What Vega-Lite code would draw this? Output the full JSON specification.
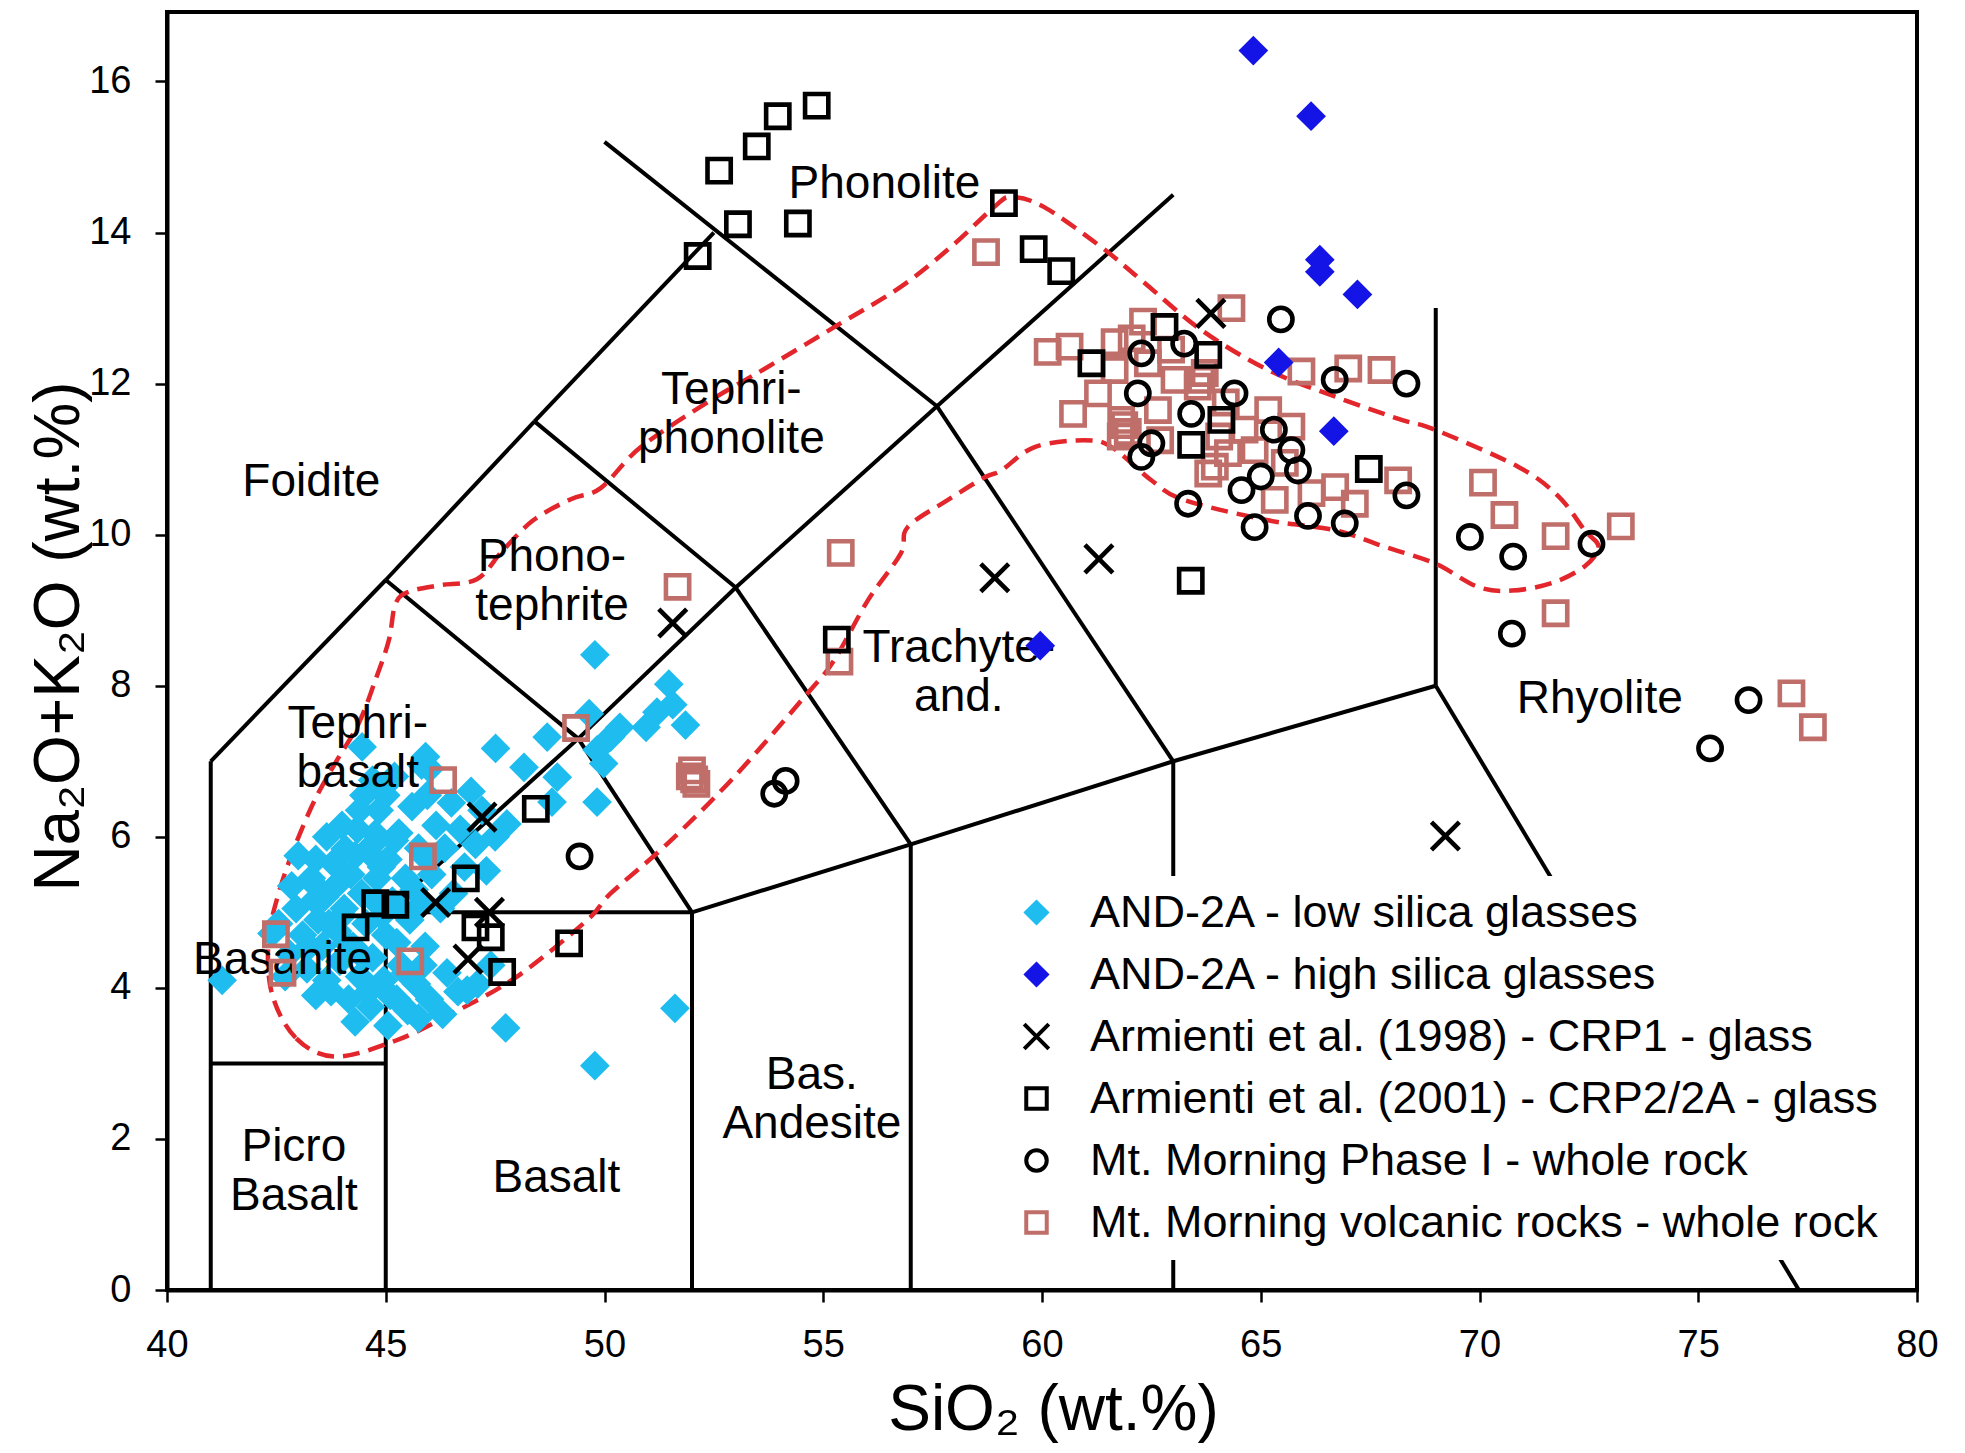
{
  "$schema": "https://vega.github.io/schema/vega-lite/v6.json",
  "width": 1750,
  "height": 1278,
  "autosize": {"type": "none"},
  "padding": {"left": 167, "top": 12, "right": 48, "bottom": 163},
  "background": "white",
  "datasets": {
    "tas": [
      {"x": 41, "y": 0, "x2": 41, "y2": 7},
      {"x": 41, "y": 7, "x2": 45, "y2": 9.4},
      {"x": 45, "y": 9.4, "x2": 48.4, "y2": 11.5},
      {"x": 48.4, "y": 11.5, "x2": 52.5, "y2": 14},
      {"x": 50, "y": 15.2, "x2": 57.6, "y2": 11.7},
      {"x": 41, "y": 3, "x2": 45, "y2": 3},
      {"x": 45, "y": 0, "x2": 45, "y2": 5},
      {"x": 45, "y": 5, "x2": 52, "y2": 5},
      {"x": 52, "y": 0, "x2": 52, "y2": 5},
      {"x": 45, "y": 5, "x2": 49.4, "y2": 7.3},
      {"x": 49.4, "y": 7.3, "x2": 52, "y2": 5},
      {"x": 49.4, "y": 7.3, "x2": 53, "y2": 9.3},
      {"x": 45, "y": 9.4, "x2": 49.4, "y2": 7.3},
      {"x": 48.4, "y": 11.5, "x2": 53, "y2": 9.3},
      {"x": 53, "y": 9.3, "x2": 57, "y2": 5.9},
      {"x": 52, "y": 5, "x2": 57, "y2": 5.9},
      {"x": 57, "y": 0, "x2": 57, "y2": 5.9},
      {"x": 53, "y": 9.3, "x2": 57.6, "y2": 11.7},
      {"x": 57.6, "y": 11.7, "x2": 63, "y2": 7},
      {"x": 57, "y": 5.9, "x2": 63, "y2": 7},
      {"x": 63, "y": 0, "x2": 63, "y2": 7},
      {"x": 63, "y": 7, "x2": 69, "y2": 8},
      {"x": 69, "y": 8, "x2": 69, "y2": 13},
      {"x": 69, "y": 8, "x2": 77.3, "y2": 0},
      {"x": 57.6, "y": 11.7, "x2": 63, "y2": 14.5}
    ],
    "outline": [
      {"i": 1, "x": 43.84, "y": 3.09}, {"i": 2, "x": 42.94, "y": 3.34}, {"i": 3, "x": 42.40, "y": 3.92},
      {"i": 4, "x": 42.32, "y": 4.63}, {"i": 5, "x": 42.55, "y": 5.25}, {"i": 6, "x": 42.92, "y": 5.87},
      {"i": 7, "x": 43.38, "y": 6.49}, {"i": 8, "x": 43.84, "y": 6.97}, {"i": 9, "x": 44.38, "y": 7.50},
      {"i": 10, "x": 44.76, "y": 8.07}, {"i": 11, "x": 45.07, "y": 8.60}, {"i": 12, "x": 45.22, "y": 9.08},
      {"i": 13, "x": 45.51, "y": 9.24}, {"i": 14, "x": 46.22, "y": 9.33}, {"i": 15, "x": 47.08, "y": 9.41},
      {"i": 16, "x": 47.66, "y": 9.78}, {"i": 17, "x": 48.37, "y": 10.19}, {"i": 18, "x": 49.23, "y": 10.47},
      {"i": 19, "x": 49.92, "y": 10.62}, {"i": 20, "x": 50.83, "y": 11.16}, {"i": 21, "x": 52.43, "y": 11.78},
      {"i": 22, "x": 53.73, "y": 12.22}, {"i": 23, "x": 55.40, "y": 12.80}, {"i": 24, "x": 56.77, "y": 13.28},
      {"i": 25, "x": 57.92, "y": 13.81}, {"i": 26, "x": 58.91, "y": 14.34}, {"i": 27, "x": 59.30, "y": 14.47},
      {"i": 28, "x": 60.04, "y": 14.34}, {"i": 29, "x": 61.35, "y": 13.81}, {"i": 30, "x": 62.27, "y": 13.37},
      {"i": 31, "x": 63.64, "y": 12.71}, {"i": 32, "x": 65.17, "y": 12.18}, {"i": 33, "x": 66.69, "y": 11.83},
      {"i": 34, "x": 68.22, "y": 11.52}, {"i": 35, "x": 68.98, "y": 11.39}, {"i": 36, "x": 70.88, "y": 10.90},
      {"i": 37, "x": 71.80, "y": 10.51}, {"i": 38, "x": 72.40, "y": 10.06}, {"i": 39, "x": 72.72, "y": 9.84},
      {"i": 40, "x": 72.40, "y": 9.58}, {"i": 41, "x": 71.66, "y": 9.36}, {"i": 42, "x": 70.74, "y": 9.26},
      {"i": 43, "x": 69.96, "y": 9.31}, {"i": 44, "x": 68.98, "y": 9.62}, {"i": 45, "x": 67.83, "y": 9.84},
      {"i": 46, "x": 66.69, "y": 10.06}, {"i": 47, "x": 65.17, "y": 10.19}, {"i": 48, "x": 63.25, "y": 10.46},
      {"i": 49, "x": 62.50, "y": 10.72}, {"i": 50, "x": 61.59, "y": 11.16}, {"i": 51, "x": 60.96, "y": 11.25},
      {"i": 52, "x": 59.83, "y": 11.16}, {"i": 53, "x": 59.07, "y": 10.85}, {"i": 54, "x": 58.69, "y": 10.76},
      {"i": 55, "x": 57.85, "y": 10.46}, {"i": 56, "x": 56.93, "y": 10.10}, {"i": 57, "x": 56.77, "y": 9.75},
      {"i": 58, "x": 56.02, "y": 9.13}, {"i": 59, "x": 55.25, "y": 8.34}, {"i": 60, "x": 54.64, "y": 7.90},
      {"i": 61, "x": 52.96, "y": 6.79}, {"i": 62, "x": 51.44, "y": 5.91}, {"i": 63, "x": 50.14, "y": 5.25},
      {"i": 64, "x": 49.61, "y": 4.90}, {"i": 65, "x": 48.00, "y": 4.15}, {"i": 66, "x": 46.51, "y": 3.66},
      {"i": 67, "x": 45.22, "y": 3.30}
    ],
    "labels": [
      {"x": 56.4, "y": 14.64, "label": "Phonolite"},
      {"x": 52.9, "y": 11.92, "label": "Tephri-\nphonolite"},
      {"x": 43.3, "y": 10.7, "label": "Foidite"},
      {"x": 48.8, "y": 9.71, "label": "Phono-\ntephrite"},
      {"x": 44.36, "y": 7.49, "label": "Tephri-\nbasalt"},
      {"x": 42.64, "y": 4.37, "label": "Basanite"},
      {"x": 58.1, "y": 8.50, "label": "Trachyte-\nand."},
      {"x": 72.75, "y": 7.83, "label": "Rhyolite"},
      {"x": 42.9, "y": 1.89, "label": "Picro\nBasalt"},
      {"x": 48.9, "y": 1.48, "label": "Basalt"},
      {"x": 54.74, "y": 2.85, "label": "Bas.\nAndesite"}
    ],
    "pts": [
      {"s": "AND-2A - low silica glasses", "x": 49.78, "y": 8.41},
      {"s": "AND-2A - low silica glasses", "x": 51.47, "y": 8.02},
      {"s": "AND-2A - low silica glasses", "x": 51.56, "y": 7.75},
      {"s": "AND-2A - low silica glasses", "x": 51.85, "y": 7.48},
      {"s": "AND-2A - low silica glasses", "x": 50.95, "y": 7.45},
      {"s": "AND-2A - low silica glasses", "x": 51.20, "y": 7.65},
      {"s": "AND-2A - low silica glasses", "x": 49.65, "y": 7.63},
      {"s": "AND-2A - low silica glasses", "x": 50.14, "y": 7.32},
      {"s": "AND-2A - low silica glasses", "x": 49.83, "y": 7.15},
      {"s": "AND-2A - low silica glasses", "x": 49.98, "y": 6.97},
      {"s": "AND-2A - low silica glasses", "x": 48.69, "y": 7.32},
      {"s": "AND-2A - low silica glasses", "x": 47.51, "y": 7.17},
      {"s": "AND-2A - low silica glasses", "x": 48.16, "y": 6.92},
      {"s": "AND-2A - low silica glasses", "x": 48.92, "y": 6.79},
      {"s": "AND-2A - low silica glasses", "x": 49.83, "y": 6.46},
      {"s": "AND-2A - low silica glasses", "x": 47.77, "y": 6.17},
      {"s": "AND-2A - low silica glasses", "x": 48.80, "y": 6.46},
      {"s": "AND-2A - low silica glasses", "x": 46.86, "y": 3.97},
      {"s": "AND-2A - low silica glasses", "x": 50.35, "y": 7.45},
      {"s": "AND-2A - low silica glasses", "x": 51.61, "y": 3.73},
      {"s": "AND-2A - low silica glasses", "x": 49.78, "y": 2.97},
      {"s": "AND-2A - low silica glasses", "x": 47.74, "y": 3.47},
      {"s": "AND-2A - low silica glasses", "x": 44.46, "y": 7.19},
      {"s": "AND-2A - low silica glasses", "x": 45.91, "y": 7.06},
      {"s": "AND-2A - low silica glasses", "x": 44.76, "y": 6.04},
      {"s": "AND-2A - low silica glasses", "x": 44.07, "y": 5.84},
      {"s": "AND-2A - low silica glasses", "x": 43.35, "y": 5.38},
      {"s": "AND-2A - low silica glasses", "x": 42.40, "y": 4.72},
      {"s": "AND-2A - low silica glasses", "x": 41.26, "y": 4.10},
      {"s": "AND-2A - low silica glasses", "x": 42.55, "y": 4.85},
      {"s": "AND-2A - low silica glasses", "x": 42.80, "y": 4.45},
      {"s": "AND-2A - low silica glasses", "x": 42.95, "y": 5.05},
      {"s": "AND-2A - low silica glasses", "x": 43.10, "y": 4.70},
      {"s": "AND-2A - low silica glasses", "x": 43.20, "y": 4.25},
      {"s": "AND-2A - low silica glasses", "x": 43.30, "y": 5.45},
      {"s": "AND-2A - low silica glasses", "x": 43.45, "y": 4.90},
      {"s": "AND-2A - low silica glasses", "x": 43.55, "y": 4.55},
      {"s": "AND-2A - low silica glasses", "x": 43.60, "y": 5.20},
      {"s": "AND-2A - low silica glasses", "x": 43.75, "y": 3.95},
      {"s": "AND-2A - low silica glasses", "x": 43.80, "y": 5.65},
      {"s": "AND-2A - low silica glasses", "x": 43.90, "y": 4.75},
      {"s": "AND-2A - low silica glasses", "x": 43.95, "y": 4.35},
      {"s": "AND-2A - low silica glasses", "x": 44.05, "y": 5.05},
      {"s": "AND-2A - low silica glasses", "x": 44.15, "y": 3.85},
      {"s": "AND-2A - low silica glasses", "x": 44.20, "y": 5.50},
      {"s": "AND-2A - low silica glasses", "x": 44.25, "y": 4.55},
      {"s": "AND-2A - low silica glasses", "x": 44.35, "y": 6.10},
      {"s": "AND-2A - low silica glasses", "x": 44.40, "y": 4.15},
      {"s": "AND-2A - low silica glasses", "x": 44.45, "y": 5.25},
      {"s": "AND-2A - low silica glasses", "x": 44.55, "y": 4.85},
      {"s": "AND-2A - low silica glasses", "x": 44.60, "y": 5.80},
      {"s": "AND-2A - low silica glasses", "x": 44.65, "y": 3.75},
      {"s": "AND-2A - low silica glasses", "x": 44.70, "y": 4.40},
      {"s": "AND-2A - low silica glasses", "x": 44.80, "y": 5.45},
      {"s": "AND-2A - low silica glasses", "x": 44.85, "y": 6.35},
      {"s": "AND-2A - low silica glasses", "x": 44.90, "y": 4.95},
      {"s": "AND-2A - low silica glasses", "x": 44.95, "y": 4.10},
      {"s": "AND-2A - low silica glasses", "x": 45.05, "y": 5.70},
      {"s": "AND-2A - low silica glasses", "x": 45.10, "y": 3.90},
      {"s": "AND-2A - low silica glasses", "x": 45.15, "y": 5.15},
      {"s": "AND-2A - low silica glasses", "x": 45.25, "y": 4.60},
      {"s": "AND-2A - low silica glasses", "x": 45.30, "y": 6.05},
      {"s": "AND-2A - low silica glasses", "x": 45.35, "y": 4.30},
      {"s": "AND-2A - low silica glasses", "x": 45.45, "y": 5.45},
      {"s": "AND-2A - low silica glasses", "x": 45.50, "y": 3.70},
      {"s": "AND-2A - low silica glasses", "x": 45.55, "y": 4.90},
      {"s": "AND-2A - low silica glasses", "x": 45.60, "y": 6.40},
      {"s": "AND-2A - low silica glasses", "x": 45.70, "y": 4.05},
      {"s": "AND-2A - low silica glasses", "x": 45.75, "y": 5.85},
      {"s": "AND-2A - low silica glasses", "x": 45.80, "y": 5.10},
      {"s": "AND-2A - low silica glasses", "x": 45.90, "y": 4.55},
      {"s": "AND-2A - low silica glasses", "x": 45.95, "y": 6.55},
      {"s": "AND-2A - low silica glasses", "x": 46.00, "y": 3.85},
      {"s": "AND-2A - low silica glasses", "x": 46.05, "y": 5.50},
      {"s": "AND-2A - low silica glasses", "x": 46.15, "y": 6.15},
      {"s": "AND-2A - low silica glasses", "x": 46.30, "y": 3.65},
      {"s": "AND-2A - low silica glasses", "x": 46.35, "y": 5.85},
      {"s": "AND-2A - low silica glasses", "x": 46.40, "y": 4.20},
      {"s": "AND-2A - low silica glasses", "x": 46.50, "y": 6.45},
      {"s": "AND-2A - low silica glasses", "x": 46.55, "y": 5.25},
      {"s": "AND-2A - low silica glasses", "x": 46.65, "y": 3.95},
      {"s": "AND-2A - low silica glasses", "x": 46.70, "y": 6.10},
      {"s": "AND-2A - low silica glasses", "x": 46.80, "y": 5.60},
      {"s": "AND-2A - low silica glasses", "x": 46.95, "y": 6.60},
      {"s": "AND-2A - low silica glasses", "x": 47.05, "y": 5.90},
      {"s": "AND-2A - low silica glasses", "x": 47.10, "y": 4.05},
      {"s": "AND-2A - low silica glasses", "x": 47.20, "y": 6.35},
      {"s": "AND-2A - low silica glasses", "x": 47.30, "y": 5.55},
      {"s": "AND-2A - low silica glasses", "x": 47.40, "y": 4.30},
      {"s": "AND-2A - low silica glasses", "x": 47.50, "y": 6.00},
      {"s": "AND-2A - low silica glasses", "x": 43.00, "y": 5.75},
      {"s": "AND-2A - low silica glasses", "x": 42.70, "y": 4.15},
      {"s": "AND-2A - low silica glasses", "x": 43.40, "y": 3.90},
      {"s": "AND-2A - low silica glasses", "x": 44.00, "y": 6.15},
      {"s": "AND-2A - low silica glasses", "x": 44.30, "y": 3.55},
      {"s": "AND-2A - low silica glasses", "x": 45.05, "y": 3.50},
      {"s": "AND-2A - low silica glasses", "x": 44.50, "y": 6.55},
      {"s": "AND-2A - low silica glasses", "x": 45.20, "y": 6.80},
      {"s": "AND-2A - low silica glasses", "x": 46.00, "y": 6.90},
      {"s": "AND-2A - low silica glasses", "x": 45.82, "y": 6.95},
      {"s": "AND-2A - low silica glasses", "x": 43.37, "y": 5.16},
      {"s": "AND-2A - low silica glasses", "x": 44.67, "y": 5.88},
      {"s": "AND-2A - low silica glasses", "x": 43.25, "y": 4.55},
      {"s": "AND-2A - low silica glasses", "x": 43.65, "y": 4.10},
      {"s": "AND-2A - low silica glasses", "x": 43.85, "y": 5.35},
      {"s": "AND-2A - low silica glasses", "x": 44.10, "y": 4.60},
      {"s": "AND-2A - low silica glasses", "x": 44.30, "y": 5.75},
      {"s": "AND-2A - low silica glasses", "x": 44.50, "y": 4.40},
      {"s": "AND-2A - low silica glasses", "x": 44.75, "y": 5.15},
      {"s": "AND-2A - low silica glasses", "x": 44.60, "y": 3.95},
      {"s": "AND-2A - low silica glasses", "x": 45.00, "y": 4.70},
      {"s": "AND-2A - low silica glasses", "x": 45.20, "y": 5.95},
      {"s": "AND-2A - low silica glasses", "x": 45.40, "y": 5.00},
      {"s": "AND-2A - low silica glasses", "x": 45.65, "y": 5.30},
      {"s": "AND-2A - low silica glasses", "x": 45.45, "y": 4.20},
      {"s": "AND-2A - low silica glasses", "x": 45.85, "y": 4.30},
      {"s": "AND-2A - low silica glasses", "x": 45.95, "y": 5.70},
      {"s": "AND-2A - low silica glasses", "x": 46.25, "y": 5.05},
      {"s": "AND-2A - low silica glasses", "x": 44.00, "y": 4.95},
      {"s": "AND-2A - low silica glasses", "x": 43.70, "y": 4.85},
      {"s": "AND-2A - low silica glasses", "x": 43.40, "y": 5.70},
      {"s": "AND-2A - low silica glasses", "x": 42.85, "y": 5.35},
      {"s": "AND-2A - low silica glasses", "x": 44.90, "y": 5.60},
      {"s": "AND-2A - low silica glasses", "x": 45.25, "y": 3.85},
      {"s": "AND-2A - low silica glasses", "x": 45.75, "y": 3.60},
      {"s": "AND-2A - low silica glasses", "x": 44.40, "y": 6.35},
      {"s": "AND-2A - low silica glasses", "x": 45.00, "y": 6.55},
      {"s": "AND-2A - low silica glasses", "x": 44.70, "y": 6.75},
      {"s": "AND-2A - low silica glasses", "x": 43.65, "y": 6.00},
      {"s": "Mt. Morning volcanic rocks - whole rock", "x": 42.49, "y": 4.71},
      {"s": "Mt. Morning volcanic rocks - whole rock", "x": 42.64, "y": 4.20},
      {"s": "Mt. Morning volcanic rocks - whole rock", "x": 45.56, "y": 4.35},
      {"s": "Mt. Morning volcanic rocks - whole rock", "x": 45.85, "y": 5.74},
      {"s": "Mt. Morning volcanic rocks - whole rock", "x": 46.31, "y": 6.75},
      {"s": "Mt. Morning volcanic rocks - whole rock", "x": 49.35, "y": 7.44},
      {"s": "Mt. Morning volcanic rocks - whole rock", "x": 51.67, "y": 9.31},
      {"s": "Mt. Morning volcanic rocks - whole rock", "x": 55.40, "y": 9.76},
      {"s": "Mt. Morning volcanic rocks - whole rock", "x": 55.37, "y": 8.32},
      {"s": "Mt. Morning volcanic rocks - whole rock", "x": 51.95, "y": 6.80},
      {"s": "Mt. Morning volcanic rocks - whole rock", "x": 52.05, "y": 6.76},
      {"s": "Mt. Morning volcanic rocks - whole rock", "x": 52.00, "y": 6.88},
      {"s": "Mt. Morning volcanic rocks - whole rock", "x": 52.10, "y": 6.70},
      {"s": "Mt. Morning volcanic rocks - whole rock", "x": 58.72, "y": 13.74},
      {"s": "Mt. Morning volcanic rocks - whole rock", "x": 64.33, "y": 13.00},
      {"s": "Mt. Morning volcanic rocks - whole rock", "x": 60.13, "y": 12.42},
      {"s": "Mt. Morning volcanic rocks - whole rock", "x": 60.63, "y": 12.49},
      {"s": "Mt. Morning volcanic rocks - whole rock", "x": 60.71, "y": 11.60},
      {"s": "Mt. Morning volcanic rocks - whole rock", "x": 61.28, "y": 11.87},
      {"s": "Mt. Morning volcanic rocks - whole rock", "x": 61.66, "y": 12.55},
      {"s": "Mt. Morning volcanic rocks - whole rock", "x": 62.31, "y": 12.82},
      {"s": "Mt. Morning volcanic rocks - whole rock", "x": 61.66, "y": 12.18},
      {"s": "Mt. Morning volcanic rocks - whole rock", "x": 61.81, "y": 11.52},
      {"s": "Mt. Morning volcanic rocks - whole rock", "x": 62.65, "y": 11.65},
      {"s": "Mt. Morning volcanic rocks - whole rock", "x": 62.42, "y": 12.27},
      {"s": "Mt. Morning volcanic rocks - whole rock", "x": 63.03, "y": 12.05},
      {"s": "Mt. Morning volcanic rocks - whole rock", "x": 63.64, "y": 12.05},
      {"s": "Mt. Morning volcanic rocks - whole rock", "x": 63.72, "y": 12.14},
      {"s": "Mt. Morning volcanic rocks - whole rock", "x": 63.56, "y": 11.96},
      {"s": "Mt. Morning volcanic rocks - whole rock", "x": 61.88, "y": 11.45},
      {"s": "Mt. Morning volcanic rocks - whole rock", "x": 61.96, "y": 11.36},
      {"s": "Mt. Morning volcanic rocks - whole rock", "x": 61.80, "y": 11.30},
      {"s": "Mt. Morning volcanic rocks - whole rock", "x": 63.95, "y": 10.90},
      {"s": "Mt. Morning volcanic rocks - whole rock", "x": 64.63, "y": 11.39},
      {"s": "Mt. Morning volcanic rocks - whole rock", "x": 65.17, "y": 11.65},
      {"s": "Mt. Morning volcanic rocks - whole rock", "x": 65.70, "y": 11.43},
      {"s": "Mt. Morning volcanic rocks - whole rock", "x": 64.25, "y": 11.08},
      {"s": "Mt. Morning volcanic rocks - whole rock", "x": 64.86, "y": 11.12},
      {"s": "Mt. Morning volcanic rocks - whole rock", "x": 65.32, "y": 10.46},
      {"s": "Mt. Morning volcanic rocks - whole rock", "x": 66.16, "y": 10.55},
      {"s": "Mt. Morning volcanic rocks - whole rock", "x": 66.70, "y": 10.63},
      {"s": "Mt. Morning volcanic rocks - whole rock", "x": 67.15, "y": 10.41},
      {"s": "Mt. Morning volcanic rocks - whole rock", "x": 63.80, "y": 10.81},
      {"s": "Mt. Morning volcanic rocks - whole rock", "x": 65.93, "y": 12.16},
      {"s": "Mt. Morning volcanic rocks - whole rock", "x": 67.00, "y": 12.20},
      {"s": "Mt. Morning volcanic rocks - whole rock", "x": 67.76, "y": 12.18},
      {"s": "Mt. Morning volcanic rocks - whole rock", "x": 68.14, "y": 10.72},
      {"s": "Mt. Morning volcanic rocks - whole rock", "x": 70.08, "y": 10.69},
      {"s": "Mt. Morning volcanic rocks - whole rock", "x": 70.57, "y": 10.26},
      {"s": "Mt. Morning volcanic rocks - whole rock", "x": 71.74, "y": 9.98},
      {"s": "Mt. Morning volcanic rocks - whole rock", "x": 73.23, "y": 10.11},
      {"s": "Mt. Morning volcanic rocks - whole rock", "x": 71.74, "y": 8.96},
      {"s": "Mt. Morning volcanic rocks - whole rock", "x": 77.13, "y": 7.90},
      {"s": "Mt. Morning volcanic rocks - whole rock", "x": 77.62, "y": 7.45},
      {"s": "Mt. Morning volcanic rocks - whole rock", "x": 62.95, "y": 12.45},
      {"s": "Mt. Morning volcanic rocks - whole rock", "x": 62.05, "y": 12.60},
      {"s": "Mt. Morning volcanic rocks - whole rock", "x": 62.70, "y": 11.25},
      {"s": "Mt. Morning volcanic rocks - whole rock", "x": 64.05, "y": 11.30},
      {"s": "Mt. Morning volcanic rocks - whole rock", "x": 64.20, "y": 11.75},
      {"s": "Mt. Morning volcanic rocks - whole rock", "x": 65.55, "y": 10.95},
      {"s": "AND-2A - high silica glasses", "x": 64.83, "y": 16.41},
      {"s": "AND-2A - high silica glasses", "x": 66.15, "y": 15.54},
      {"s": "AND-2A - high silica glasses", "x": 66.35, "y": 13.64},
      {"s": "AND-2A - high silica glasses", "x": 66.35, "y": 13.48},
      {"s": "AND-2A - high silica glasses", "x": 67.21, "y": 13.18},
      {"s": "AND-2A - high silica glasses", "x": 65.41, "y": 12.28},
      {"s": "AND-2A - high silica glasses", "x": 66.67, "y": 11.37},
      {"s": "AND-2A - high silica glasses", "x": 59.96, "y": 8.53},
      {"s": "Mt. Morning Phase I - whole rock", "x": 65.46, "y": 12.85},
      {"s": "Mt. Morning Phase I - whole rock", "x": 68.33, "y": 12.00},
      {"s": "Mt. Morning Phase I - whole rock", "x": 66.69, "y": 12.05},
      {"s": "Mt. Morning Phase I - whole rock", "x": 63.25, "y": 12.53},
      {"s": "Mt. Morning Phase I - whole rock", "x": 62.27, "y": 12.40},
      {"s": "Mt. Morning Phase I - whole rock", "x": 62.19, "y": 11.87},
      {"s": "Mt. Morning Phase I - whole rock", "x": 63.41, "y": 11.60},
      {"s": "Mt. Morning Phase I - whole rock", "x": 64.40, "y": 11.87},
      {"s": "Mt. Morning Phase I - whole rock", "x": 65.30, "y": 11.39},
      {"s": "Mt. Morning Phase I - whole rock", "x": 65.70, "y": 11.12},
      {"s": "Mt. Morning Phase I - whole rock", "x": 65.85, "y": 10.85},
      {"s": "Mt. Morning Phase I - whole rock", "x": 65.00, "y": 10.77},
      {"s": "Mt. Morning Phase I - whole rock", "x": 64.56, "y": 10.59},
      {"s": "Mt. Morning Phase I - whole rock", "x": 62.27, "y": 11.03},
      {"s": "Mt. Morning Phase I - whole rock", "x": 62.50, "y": 11.21},
      {"s": "Mt. Morning Phase I - whole rock", "x": 63.34, "y": 10.41},
      {"s": "Mt. Morning Phase I - whole rock", "x": 64.86, "y": 10.10},
      {"s": "Mt. Morning Phase I - whole rock", "x": 66.08, "y": 10.25},
      {"s": "Mt. Morning Phase I - whole rock", "x": 66.92, "y": 10.15},
      {"s": "Mt. Morning Phase I - whole rock", "x": 68.33, "y": 10.52},
      {"s": "Mt. Morning Phase I - whole rock", "x": 69.78, "y": 9.97},
      {"s": "Mt. Morning Phase I - whole rock", "x": 70.77, "y": 9.71},
      {"s": "Mt. Morning Phase I - whole rock", "x": 72.56, "y": 9.88},
      {"s": "Mt. Morning Phase I - whole rock", "x": 70.74, "y": 8.69},
      {"s": "Mt. Morning Phase I - whole rock", "x": 76.15, "y": 7.81},
      {"s": "Mt. Morning Phase I - whole rock", "x": 75.27, "y": 7.17},
      {"s": "Mt. Morning Phase I - whole rock", "x": 49.43, "y": 5.74},
      {"s": "Mt. Morning Phase I - whole rock", "x": 53.88, "y": 6.57},
      {"s": "Mt. Morning Phase I - whole rock", "x": 54.14, "y": 6.74},
      {"s": "Armienti et al. (2001) - CRP2/2A - glass", "x": 54.85, "y": 15.68},
      {"s": "Armienti et al. (2001) - CRP2/2A - glass", "x": 53.96, "y": 15.54},
      {"s": "Armienti et al. (2001) - CRP2/2A - glass", "x": 53.48, "y": 15.14},
      {"s": "Armienti et al. (2001) - CRP2/2A - glass", "x": 52.62, "y": 14.82},
      {"s": "Armienti et al. (2001) - CRP2/2A - glass", "x": 53.05, "y": 14.11},
      {"s": "Armienti et al. (2001) - CRP2/2A - glass", "x": 54.42, "y": 14.12},
      {"s": "Armienti et al. (2001) - CRP2/2A - glass", "x": 52.13, "y": 13.69},
      {"s": "Armienti et al. (2001) - CRP2/2A - glass", "x": 59.13, "y": 14.39},
      {"s": "Armienti et al. (2001) - CRP2/2A - glass", "x": 59.81, "y": 13.78},
      {"s": "Armienti et al. (2001) - CRP2/2A - glass", "x": 60.44, "y": 13.49},
      {"s": "Armienti et al. (2001) - CRP2/2A - glass", "x": 55.31, "y": 8.61},
      {"s": "Armienti et al. (2001) - CRP2/2A - glass", "x": 63.40, "y": 9.39},
      {"s": "Armienti et al. (2001) - CRP2/2A - glass", "x": 67.47, "y": 10.87},
      {"s": "Armienti et al. (2001) - CRP2/2A - glass", "x": 62.80, "y": 12.75},
      {"s": "Armienti et al. (2001) - CRP2/2A - glass", "x": 63.80, "y": 12.38},
      {"s": "Armienti et al. (2001) - CRP2/2A - glass", "x": 63.41, "y": 11.19},
      {"s": "Armienti et al. (2001) - CRP2/2A - glass", "x": 61.13, "y": 12.27},
      {"s": "Armienti et al. (2001) - CRP2/2A - glass", "x": 64.10, "y": 11.52},
      {"s": "Armienti et al. (2001) - CRP2/2A - glass", "x": 48.43, "y": 6.37},
      {"s": "Armienti et al. (2001) - CRP2/2A - glass", "x": 46.83, "y": 5.45},
      {"s": "Armienti et al. (2001) - CRP2/2A - glass", "x": 47.05, "y": 4.80},
      {"s": "Armienti et al. (2001) - CRP2/2A - glass", "x": 47.40, "y": 4.67},
      {"s": "Armienti et al. (2001) - CRP2/2A - glass", "x": 47.66, "y": 4.21},
      {"s": "Armienti et al. (2001) - CRP2/2A - glass", "x": 49.19, "y": 4.59},
      {"s": "Armienti et al. (2001) - CRP2/2A - glass", "x": 44.76, "y": 5.12},
      {"s": "Armienti et al. (2001) - CRP2/2A - glass", "x": 45.22, "y": 5.10},
      {"s": "Armienti et al. (2001) - CRP2/2A - glass", "x": 44.31, "y": 4.80},
      {"s": "Armienti et al. (1998) - CRP1 - glass", "x": 51.56, "y": 8.83},
      {"s": "Armienti et al. (1998) - CRP1 - glass", "x": 58.92, "y": 9.43},
      {"s": "Armienti et al. (1998) - CRP1 - glass", "x": 61.30, "y": 9.68},
      {"s": "Armienti et al. (1998) - CRP1 - glass", "x": 69.22, "y": 6.01},
      {"s": "Armienti et al. (1998) - CRP1 - glass", "x": 63.86, "y": 12.93},
      {"s": "Armienti et al. (1998) - CRP1 - glass", "x": 47.20, "y": 6.26},
      {"s": "Armienti et al. (1998) - CRP1 - glass", "x": 46.14, "y": 5.13},
      {"s": "Armienti et al. (1998) - CRP1 - glass", "x": 47.37, "y": 5.00},
      {"s": "Armienti et al. (1998) - CRP1 - glass", "x": 46.88, "y": 4.38}
    ]
  },
  "encoding": {
    "x": {
      "field": "x", "type": "quantitative",
      "scale": {"domain": [40, 80], "nice": false, "zero": false},
      "axis": {
        "title": "SiO₂ (wt.%)", "values": [40, 45, 50, 55, 60, 65, 70, 75, 80], "format": "d",
        "labelPadding": 24, "titleX": 886, "titleY": 139, "titleBaseline": "alphabetic", "titleAlign": "center"
      }
    },
    "y": {
      "field": "y", "type": "quantitative",
      "scale": {"domain": [0, 16.92], "nice": false, "zero": false},
      "axis": {
        "title": "Na₂O+K₂O (wt.%)", "values": [0, 2, 4, 6, 8, 10, 12, 14, 16], "format": "d",
        "labelPadding": 24, "titleX": -89, "titleY": 624, "titleBaseline": "alphabetic", "titleAlign": "center", "titleAngle": -90
      }
    }
  },
  "layer": [
    {
      "data": {"name": "tas"},
      "mark": {"type": "rule", "color": "black", "strokeWidth": 4},
      "encoding": {"x2": {"field": "x2"}, "y2": {"field": "y2"}}
    },
    {
      "data": {"name": "outline"},
      "mark": {"type": "line", "color": "#e3262b", "strokeWidth": 4.5, "strokeDash": [17, 9], "interpolate": "cardinal-closed"},
      "encoding": {"order": {"field": "i", "type": "quantitative"}}
    },
    {
      "data": {"name": "pts"},
      "transform": [{"filter": "datum.s == 'AND-2A - low silica glasses'"}],
      "mark": {"type": "point", "size": 540, "strokeWidth": 4.6, "opacity": 1},
      "encoding": {
        "shape": {
          "field": "s", "type": "nominal", "title": null,
          "scale": {
            "domain": ["AND-2A - low silica glasses", "AND-2A - high silica glasses", "Armienti et al. (1998) - CRP1 - glass", "Armienti et al. (2001) - CRP2/2A - glass", "Mt. Morning Phase I - whole rock", "Mt. Morning volcanic rocks - whole rock"],
            "range": ["diamond", "diamond", "M-1.2,-1.2L1.2,1.2M-1.2,1.2L1.2,-1.2", "square", "circle", "square"]
          },
          "legend": {"orient": "none", "legendX": 833, "legendY": 864}
        },
        "stroke": {
          "field": "s", "type": "nominal", "title": null,
          "scale": {
            "domain": ["AND-2A - low silica glasses", "AND-2A - high silica glasses", "Armienti et al. (1998) - CRP1 - glass", "Armienti et al. (2001) - CRP2/2A - glass", "Mt. Morning Phase I - whole rock", "Mt. Morning volcanic rocks - whole rock"],
            "range": ["#1fbdef", "#1414e6", "#000000", "#000000", "#000000", "#bf6e69"]
          },
          "legend": {"orient": "none", "legendX": 833, "legendY": 864}
        },
        "fill": {
          "field": "s", "type": "nominal", "title": null,
          "scale": {
            "domain": ["AND-2A - low silica glasses", "AND-2A - high silica glasses", "Armienti et al. (1998) - CRP1 - glass", "Armienti et al. (2001) - CRP2/2A - glass", "Mt. Morning Phase I - whole rock", "Mt. Morning volcanic rocks - whole rock"],
            "range": ["#1fbdef", "#1414e6", "transparent", "transparent", "transparent", "transparent"]
          },
          "legend": {"orient": "none", "legendX": 833, "legendY": 864}
        }
      }
    },
    {
      "data": {"name": "labels"},
      "mark": {"type": "text", "font": "Liberation Sans", "fontSize": 46, "lineBreak": "\n", "lineHeight": 49, "align": "center", "baseline": "middle", "color": "black"},
      "encoding": {"text": {"field": "label"}}
    },
    {
      "data": {"name": "pts"},
      "transform": [{"filter": "datum.s != 'AND-2A - low silica glasses'"}],
      "mark": {"type": "point", "size": 540, "strokeWidth": 4.6, "opacity": 1},
      "encoding": {
        "shape": {"field": "s", "type": "nominal", "title": null, "legend": {"orient": "none", "legendX": 833, "legendY": 864}},
        "stroke": {"field": "s", "type": "nominal", "title": null, "legend": {"orient": "none", "legendX": 833, "legendY": 864}},
        "fill": {"field": "s", "type": "nominal", "title": null, "legend": {"orient": "none", "legendX": 833, "legendY": 864}}
      }
    }
  ],
  "config": {
    "view": {"stroke": "black", "strokeWidth": 4},
    "axis": {
      "grid": false,
      "domainColor": "black", "domainWidth": 4,
      "tickColor": "black", "tickWidth": 2.5, "tickSize": 12,
      "labelFont": "Liberation Sans", "labelFontSize": 38, "labelColor": "black",
      "titleFont": "Liberation Sans", "titleFontSize": 64, "titleFontWeight": "normal", "titleColor": "black",
      "labelFlush": false, "labelOverlap": false
    },
    "legend": {
      "labelFont": "Liberation Sans", "labelFontSize": 45, "labelColor": "black", "labelLimit": 2000,
      "symbolSize": 420, "symbolStrokeWidth": 4, "symbolOpacity": 1,
      "labelOffset": 31, "rowPadding": 16, "padding": 14, "fillColor": "white", "strokeColor": null
    }
  }
}
